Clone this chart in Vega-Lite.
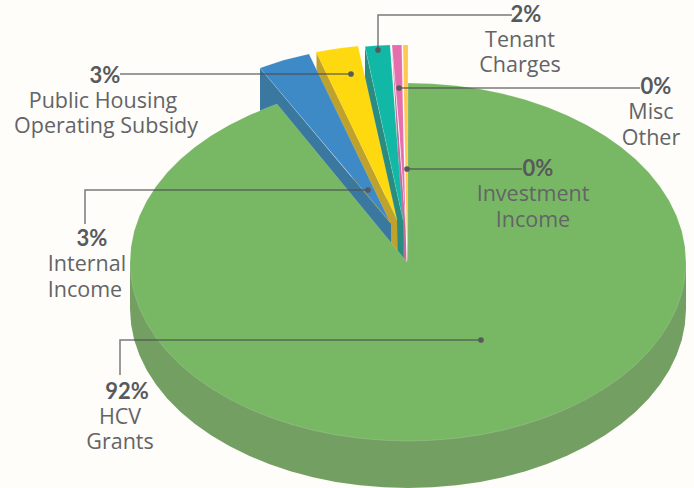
{"$schema":"https://vega.github.io/schema/vega-lite/v6.json","width":694,"height":488,"padding":0,"autosize":{"type":"fit","contains":"padding"},"background":"#FEFDFA","view":{"stroke":null},
"datasets":{
"shapes":[
{"part":"side HCV","i":1,"x":686,"y":262},{"part":"side HCV","i":2,"x":686,"y":309},{"part":"side HCV","i":3,"x":684.9,"y":324.6},{"part":"side HCV","i":4,"x":681.8,"y":340.1},{"part":"side HCV","i":5,"x":676.5,"y":355.3},{"part":"side HCV","i":6,"x":669.2,"y":370.2},{"part":"side HCV","i":7,"x":660,"y":384.6},{"part":"side HCV","i":8,"x":648.8,"y":398.5},{"part":"side HCV","i":9,"x":635.7,"y":411.7},{"part":"side HCV","i":10,"x":621,"y":424.1},{"part":"side HCV","i":11,"x":604.6,"y":435.6},{"part":"side HCV","i":12,"x":586.7,"y":446.1},{"part":"side HCV","i":13,"x":567.5,"y":455.6},{"part":"side HCV","i":14,"x":547,"y":464},{"part":"side HCV","i":15,"x":525.5,"y":471.2},{"part":"side HCV","i":16,"x":503.1,"y":477.2},{"part":"side HCV","i":17,"x":480,"y":481.9},{"part":"side HCV","i":18,"x":456.3,"y":485.3},{"part":"side HCV","i":19,"x":432.2,"y":487.3},{"part":"side HCV","i":20,"x":408,"y":488},{"part":"side HCV","i":21,"x":383.8,"y":487.3},{"part":"side HCV","i":22,"x":359.7,"y":485.3},{"part":"side HCV","i":23,"x":336,"y":481.9},{"part":"side HCV","i":24,"x":312.9,"y":477.2},{"part":"side HCV","i":25,"x":290.5,"y":471.2},{"part":"side HCV","i":26,"x":269,"y":464},{"part":"side HCV","i":27,"x":248.5,"y":455.6},{"part":"side HCV","i":28,"x":229.3,"y":446.1},{"part":"side HCV","i":29,"x":211.4,"y":435.6},{"part":"side HCV","i":30,"x":195,"y":424.1},{"part":"side HCV","i":31,"x":180.3,"y":411.7},{"part":"side HCV","i":32,"x":167.2,"y":398.5},{"part":"side HCV","i":33,"x":156,"y":384.6},{"part":"side HCV","i":34,"x":146.8,"y":370.2},{"part":"side HCV","i":35,"x":139.5,"y":355.3},{"part":"side HCV","i":36,"x":134.2,"y":340.1},{"part":"side HCV","i":37,"x":131.1,"y":324.6},{"part":"side HCV","i":38,"x":130,"y":309},{"part":"side HCV","i":39,"x":130,"y":262},
{"part":"side Misc","i":1,"x":392,"y":47},{"part":"side Misc","i":2,"x":404,"y":262},{"part":"side Misc","i":3,"x":406.5,"y":262},{"part":"side Misc","i":4,"x":405.5,"y":225},
{"part":"side Tenant","i":1,"x":365,"y":47},{"part":"side Tenant","i":2,"x":365,"y":80},{"part":"side Tenant","i":3,"x":398,"y":262},{"part":"side Tenant","i":4,"x":404,"y":262},{"part":"side Tenant","i":5,"x":403,"y":220},
{"part":"side Internal","i":1,"x":316.5,"y":52},{"part":"side Internal","i":2,"x":316.5,"y":100},{"part":"side Internal","i":3,"x":391,"y":262},{"part":"side Internal","i":4,"x":398,"y":262},{"part":"side Internal","i":5,"x":397,"y":220},
{"part":"side Public","i":1,"x":260,"y":68},{"part":"side Public","i":2,"x":260,"y":125},{"part":"side Public","i":3,"x":391,"y":262},{"part":"side Public","i":4,"x":391,"y":224}
],
"hcv":[
{"part":"HCV","i":1,"x":407,"y":262},{"part":"HCV","i":2,"x":408,"y":83},{"part":"HCV","i":3,"x":432.2,"y":83.7},{"part":"HCV","i":4,"x":456.3,"y":85.7},{"part":"HCV","i":5,"x":480,"y":89.1},{"part":"HCV","i":6,"x":503.1,"y":93.8},{"part":"HCV","i":7,"x":525.5,"y":99.8},{"part":"HCV","i":8,"x":547,"y":107},{"part":"HCV","i":9,"x":567.5,"y":115.4},{"part":"HCV","i":10,"x":586.7,"y":124.9},{"part":"HCV","i":11,"x":604.6,"y":135.4},{"part":"HCV","i":12,"x":621,"y":146.9},{"part":"HCV","i":13,"x":635.7,"y":159.3},{"part":"HCV","i":14,"x":648.8,"y":172.5},{"part":"HCV","i":15,"x":660,"y":186.4},{"part":"HCV","i":16,"x":669.2,"y":200.8},{"part":"HCV","i":17,"x":676.5,"y":215.7},{"part":"HCV","i":18,"x":681.8,"y":230.9},{"part":"HCV","i":19,"x":684.9,"y":246.4},{"part":"HCV","i":20,"x":686,"y":262},{"part":"HCV","i":21,"x":684.9,"y":277.6},{"part":"HCV","i":22,"x":681.8,"y":293.1},{"part":"HCV","i":23,"x":676.5,"y":308.3},{"part":"HCV","i":24,"x":669.2,"y":323.2},{"part":"HCV","i":25,"x":660,"y":337.6},{"part":"HCV","i":26,"x":648.8,"y":351.5},{"part":"HCV","i":27,"x":635.7,"y":364.7},{"part":"HCV","i":28,"x":621,"y":377.1},{"part":"HCV","i":29,"x":604.6,"y":388.6},{"part":"HCV","i":30,"x":586.7,"y":399.1},{"part":"HCV","i":31,"x":567.5,"y":408.6},{"part":"HCV","i":32,"x":547,"y":417},{"part":"HCV","i":33,"x":525.5,"y":424.2},{"part":"HCV","i":34,"x":503.1,"y":430.2},{"part":"HCV","i":35,"x":480,"y":434.9},{"part":"HCV","i":36,"x":456.3,"y":438.3},{"part":"HCV","i":37,"x":432.2,"y":440.3},{"part":"HCV","i":38,"x":408,"y":441},{"part":"HCV","i":39,"x":383.8,"y":440.3},{"part":"HCV","i":40,"x":359.7,"y":438.3},{"part":"HCV","i":41,"x":336,"y":434.9},{"part":"HCV","i":42,"x":312.9,"y":430.2},{"part":"HCV","i":43,"x":290.5,"y":424.2},{"part":"HCV","i":44,"x":269,"y":417},{"part":"HCV","i":45,"x":248.5,"y":408.6},{"part":"HCV","i":46,"x":229.3,"y":399.1},{"part":"HCV","i":47,"x":211.4,"y":388.6},{"part":"HCV","i":48,"x":195,"y":377.1},{"part":"HCV","i":49,"x":180.3,"y":364.7},{"part":"HCV","i":50,"x":167.2,"y":351.5},{"part":"HCV","i":51,"x":156,"y":337.6},{"part":"HCV","i":52,"x":146.8,"y":323.2},{"part":"HCV","i":53,"x":139.5,"y":308.3},{"part":"HCV","i":54,"x":134.2,"y":293.1},{"part":"HCV","i":55,"x":131.1,"y":277.6},{"part":"HCV","i":56,"x":130,"y":262},{"part":"HCV","i":57,"x":131.1,"y":246.4},{"part":"HCV","i":58,"x":134.2,"y":230.9},{"part":"HCV","i":59,"x":139.5,"y":215.7},{"part":"HCV","i":60,"x":146.8,"y":200.8},{"part":"HCV","i":61,"x":156,"y":186.4},{"part":"HCV","i":62,"x":167.2,"y":172.5},{"part":"HCV","i":63,"x":180.3,"y":159.3},{"part":"HCV","i":64,"x":195,"y":146.9},{"part":"HCV","i":65,"x":211.4,"y":135.4},{"part":"HCV","i":66,"x":229.3,"y":124.9},{"part":"HCV","i":67,"x":248.5,"y":115.4},{"part":"HCV","i":68,"x":269,"y":107},{"part":"HCV","i":69,"x":277,"y":104},{"part":"HCV","i":70,"x":407,"y":262}
],
"tops":[
{"part":"Public","i":1,"x":260,"y":68},{"part":"Public","i":2,"x":284,"y":60},{"part":"Public","i":3,"x":309,"y":54},{"part":"Public","i":4,"x":390,"y":222},{"part":"Public","i":5,"x":260,"y":68},
{"part":"Internal","i":1,"x":316,"y":52},{"part":"Internal","i":2,"x":337,"y":48.5},{"part":"Internal","i":3,"x":358,"y":46},{"part":"Internal","i":4,"x":397,"y":220},{"part":"Internal","i":5,"x":316,"y":52},
{"part":"Tenant","i":1,"x":365,"y":46.5},{"part":"Tenant","i":2,"x":378,"y":45.5},{"part":"Tenant","i":3,"x":390,"y":45},{"part":"Tenant","i":4,"x":403,"y":220},{"part":"Tenant","i":5,"x":365,"y":46.5},
{"part":"Misc","i":1,"x":392,"y":45},{"part":"Misc","i":2,"x":401.7,"y":45},{"part":"Misc","i":3,"x":403.3,"y":130},{"part":"Misc","i":4,"x":405.5,"y":225},{"part":"Misc","i":5,"x":399.3,"y":130},{"part":"Misc","i":6,"x":392,"y":45},
{"part":"Investment","i":1,"x":403,"y":45},{"part":"Investment","i":2,"x":408,"y":45},{"part":"Investment","i":3,"x":407.7,"y":260},{"part":"Investment","i":4,"x":406.5,"y":225},{"part":"Investment","i":5,"x":403,"y":45}
],
"leaders":[
{"name":"Public","i":1,"x":120,"y":74},{"name":"Public","i":2,"x":351,"y":74},
{"name":"Tenant","i":1,"x":512,"y":15},{"name":"Tenant","i":2,"x":378,"y":15},{"name":"Tenant","i":3,"x":378,"y":50},
{"name":"Misc","i":1,"x":640,"y":88},{"name":"Misc","i":2,"x":399,"y":88},
{"name":"Investment","i":1,"x":522,"y":169},{"name":"Investment","i":2,"x":407,"y":169},
{"name":"Internal","i":1,"x":85,"y":224},{"name":"Internal","i":2,"x":85,"y":190},{"name":"Internal","i":3,"x":368,"y":190},
{"name":"HCV","i":1,"x":120,"y":375},{"name":"HCV","i":2,"x":120,"y":340},{"name":"HCV","i":3,"x":481,"y":340}
],
"dots":[{"name":"Public","x":351,"y":74},{"name":"Tenant","x":378,"y":50},{"name":"Misc","x":399,"y":88},{"name":"Investment","x":407,"y":169},{"name":"Internal","x":368,"y":190},{"name":"HCV","x":481,"y":340}],
"pcts":[{"t":"3%","x":105,"y":76},{"t":"3%","x":92,"y":239},{"t":"92%","x":127,"y":392},{"t":"2%","x":526,"y":15},{"t":"0%","x":656,"y":87},{"t":"0%","x":538,"y":169}],
"names":[{"t":"Public Housing","x":103,"y":102},{"t":"Operating Subsidy","x":106,"y":127},{"t":"Internal","x":87,"y":265},{"t":"Income","x":85,"y":291},{"t":"HCV","x":120,"y":418},{"t":"Grants","x":120,"y":443},{"t":"Tenant","x":520,"y":41},{"t":"Charges","x":520,"y":66},{"t":"Misc","x":651,"y":113},{"t":"Other","x":651,"y":139},{"t":"Investment","x":533,"y":195},{"t":"Income","x":533,"y":221}]
},
"encoding":{
"x":{"field":"x","type":"quantitative","axis":null,"scale":{"domain":[0,694],"nice":false,"zero":false}},
"y":{"field":"y","type":"quantitative","axis":null,"scale":{"domain":[488,0],"nice":false,"zero":false}}
},
"resolve":{"scale":{"color":"shared"}},
"layer":[
{"data":{"name":"shapes"},"mark":{"type":"line","filled":true,"interpolate":"linear","strokeWidth":0},"encoding":{"order":{"field":"i","type":"quantitative"},"color":{"field":"part","type":"nominal","legend":null,"scale":{"domain":["side HCV","side Misc","side Tenant","side Internal","side Public","HCV","Public","Internal","Tenant","Misc","Investment"],"range":["#739F63","#C06E9C","#2A8C80","#BFA22C","#3B789F","#78B865","#3D8AC7","#FFD90F","#12B8A6","#E56FAE","#FFC94D"]}}}},
{"data":{"name":"hcv"},"mark":{"type":"line","filled":true,"interpolate":"linear","stroke":"#ffffff","strokeOpacity":0.3,"strokeWidth":0.5},"encoding":{"order":{"field":"i","type":"quantitative"},"color":{"field":"part","type":"nominal","legend":null}}},
{"data":{"name":"tops"},"mark":{"type":"line","filled":true,"interpolate":"linear","stroke":"#ffffff","strokeOpacity":0.25,"strokeWidth":0.5},"encoding":{"order":{"field":"i","type":"quantitative"},"color":{"field":"part","type":"nominal","legend":null}}},
{"data":{"name":"leaders"},"mark":{"type":"line","interpolate":"linear","color":"#4D4D4F","opacity":0.75,"strokeWidth":1.5},"encoding":{"detail":{"field":"name"},"order":{"field":"i","type":"quantitative"}}},
{"data":{"name":"dots"},"mark":{"type":"point","filled":true,"color":"#58595B","opacity":1,"size":32}},
{"data":{"name":"pcts"},"mark":{"type":"text","font":"Lato","fontWeight":"bold","fontSize":22,"color":"#58595B","align":"center","baseline":"middle"},"encoding":{"text":{"field":"t"}}},
{"data":{"name":"names"},"mark":{"type":"text","font":"Open Sans","fontSize":21.5,"color":"#636466","align":"center","baseline":"middle"},"encoding":{"text":{"field":"t"}}}
]}
